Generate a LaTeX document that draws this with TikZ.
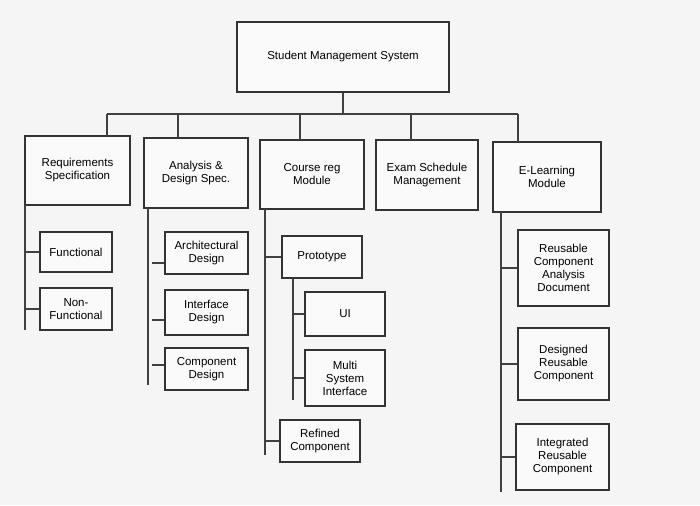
\documentclass[tikz,border=0pt]{standalone}
\usepackage{fontspec}
\setmainfont{Liberation Sans}
\begin{document}
\begin{tikzpicture}[x=1pt,y=-1pt,
  bx/.style={draw=black!80,line width=1.1pt,fill=white!96!gray,align=center,font=\fontsize{11.5}{13}\selectfont,inner sep=1pt},
  ln/.style={draw=black!75,line width=1.1pt}]
\fill[black!4] (0,0) rectangle (700,505);
\useasboundingbox (0,0) rectangle (700,505);
\newcommand{\bxat}[6]{\node[bx,minimum width=#4-#2,minimum height=#5-#3] (#1) at ({(#2+#4)/2},{(#3+#5)/2}) {#6};}
\bxat{root}{237}{22}{449}{92}{Student Management System}
\bxat{req}{25}{136}{130}{205}{Requirements\\Specification}
\bxat{ana}{144}{138}{248}{208}{Analysis \&\\Design Spec.}
\bxat{crs}{260}{140}{364}{209}{Course reg\\Module}
\bxat{exm}{376}{140}{478}{210}{Exam Schedule\\Management}
\bxat{elm}{493}{142}{601}{212}{E-Learning\\Module}
\bxat{fun}{40}{232}{112}{272}{Functional}
\bxat{nfn}{40}{288}{112}{330}{Non-\\Functional}
\bxat{arc}{165}{232}{248}{274}{Architectural\\Design}
\bxat{int}{165}{290}{248}{335}{Interface\\Design}
\bxat{cmp}{165}{348}{248}{390}{Component\\Design}
\bxat{pro}{282}{236}{362}{278}{Prototype}
\bxat{ui}{305}{292}{385}{336}{UI}
\bxat{mul}{305}{350}{385}{406}{Multi\\System\\Interface}
\bxat{ref}{280}{420}{360}{462}{Refined\\Component}
\bxat{reu}{518}{230}{609}{306}{Reusable\\Component\\Analysis\\Document}
\bxat{des}{518}{328}{609}{400}{Designed\\Reusable\\Component}
\bxat{itg}{516}{424}{609}{490}{Integrated\\Reusable\\Component}
\coordinate (b) at (343,114);
\draw[ln] (root.south) -- (b);
\draw[ln] (107,114) -- (518,114);
\draw[ln] (107,114) -- (107,136);
\draw[ln] (178,114) -- (178,138);
\draw[ln] (300,114) -- (300,140);
\draw[ln] (411,114) -- (411,140);
\draw[ln] (518,114) -- (518,142);
\draw[ln] (25,205) -- (25,330);
\draw[ln] (25,252) -- (fun.west);
\draw[ln] (25,309) -- (nfn.west);
\draw[ln] (148,208) -- (148,385);
\draw[ln] (152,263) -- (arc.west |- 0,263);
\draw[ln] (152,320) -- (int.west |- 0,320);
\draw[ln] (152,365) -- (cmp.west |- 0,365);
\draw[ln] (265,209) -- (265,455);
\draw[ln] (265,257) -- (pro.west);
\draw[ln] (293,278) -- (293,400);
\draw[ln] (293,314) -- (ui.west);
\draw[ln] (293,378) -- (mul.west);
\draw[ln] (265,441) -- (ref.west);
\draw[ln] (501,212) -- (501,492);
\draw[ln] (501,268) -- (reu.west);
\draw[ln] (501,364) -- (des.west);
\draw[ln] (501,457) -- (itg.west);
\end{tikzpicture}
\end{document}
